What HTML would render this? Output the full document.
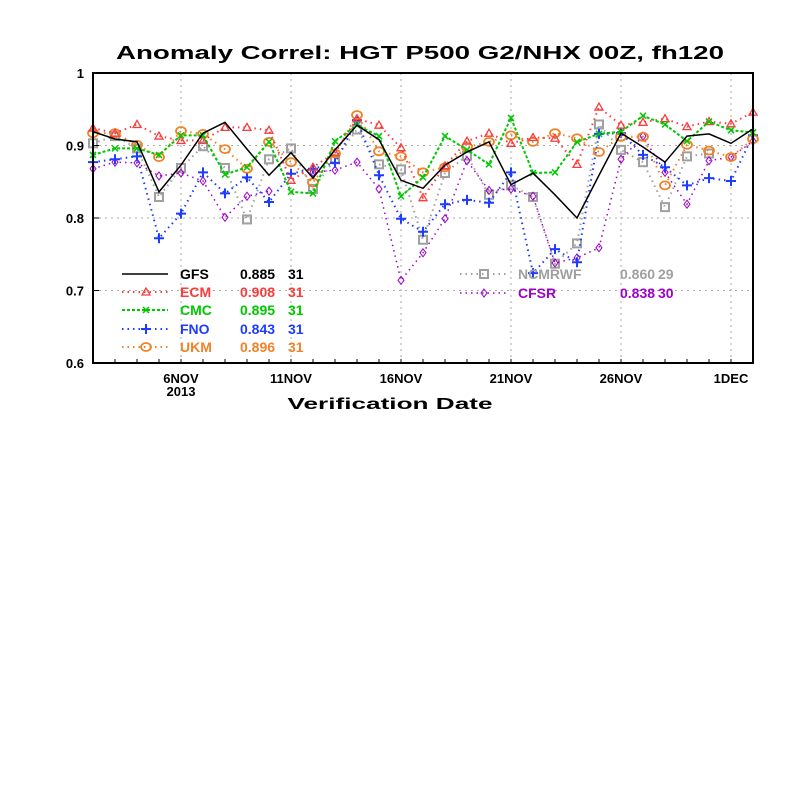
<!DOCTYPE html>
<html><head><meta charset="utf-8"><style>
html,body{margin:0;padding:0;background:#fff;}
svg{display:block;font-family:"Liberation Sans",sans-serif;font-weight:bold;}
</style></head><body>
<svg id="chart" width="800" height="800" xmlns="http://www.w3.org/2000/svg">
<rect width="800" height="800" fill="#fff"/>
<text x="420" y="59" text-anchor="middle" font-size="18" textLength="608" lengthAdjust="spacingAndGlyphs">Anomaly Correl: HGT P500 G2/NHX 00Z, fh120</text>
<text x="390" y="409" text-anchor="middle" font-size="16" textLength="205" lengthAdjust="spacingAndGlyphs">Verification Date</text>
<g id="grid"></g><g id="series"></g><g id="axes"></g><g id="legend"></g>
</svg>
<script>
const yTicks=[0.6,0.7,0.8,0.9,1];
const yTickLabels=["0.6","0.7","0.8","0.9","1"];
const xTickDays=[4,9,14,19,24,29];
const xTickLabels=["6NOV","11NOV","16NOV","21NOV","26NOV","1DEC"];
const gfs=[0.919,0.909,0.905,0.836,0.873,0.917,0.932,0.895,0.859,0.890,0.855,0.894,0.928,0.908,0.852,0.841,0.873,0.891,0.905,0.846,0.862,0.832,0.800,0.859,0.917,0.898,0.877,0.913,0.916,0.903,0.923];
const ecm=[0.924,0.917,0.929,0.913,0.907,0.907,0.925,0.925,0.921,0.852,0.870,0.890,0.937,0.928,0.897,0.828,0.872,0.906,0.917,0.903,0.911,0.910,0.874,0.953,0.928,0.932,0.937,0.926,0.933,0.930,0.946];
const cmc=[0.887,0.896,0.896,0.887,0.914,0.914,0.860,0.870,0.905,0.836,0.834,0.906,0.928,0.913,0.830,0.856,0.913,0.894,0.874,0.938,0.862,0.863,0.905,0.916,0.919,0.941,0.929,0.906,0.933,0.921,0.918];
const fno=[0.877,0.881,0.885,0.772,0.806,0.863,0.834,0.856,0.822,0.861,0.868,0.876,0.935,0.859,0.799,0.781,0.819,0.825,0.821,0.863,0.724,0.757,0.739,0.916,0.917,0.887,0.870,0.845,0.855,0.851,0.914];
const ukm=[0.917,0.917,0.901,0.884,0.920,0.916,0.895,0.868,0.905,0.877,0.849,0.889,0.942,0.892,0.885,0.863,0.870,0.898,0.905,0.914,0.905,0.917,0.910,0.891,0.912,0.912,0.845,0.901,0.893,0.884,0.909];
const ncm=[0.903,0.913,0.896,0.829,0.869,0.899,0.869,0.798,0.881,0.896,0.840,0.881,0.922,0.874,0.867,0.770,0.862,0.886,0.832,0.845,0.829,0.737,0.765,0.929,0.894,0.877,0.815,0.885,0.889,null,null];
const cfsr=[0.868,0.877,0.876,0.858,0.862,0.851,0.801,0.830,0.837,null,0.863,0.866,0.877,0.840,0.714,0.752,0.799,0.879,0.838,0.840,0.830,0.738,0.745,0.759,0.881,0.913,0.863,0.819,0.879,0.884,0.906];

const svgNS="http://www.w3.org/2000/svg";
const X0=93,DX=22,YT=73,YB=363,VMIN=0.6,VMAX=1;
function xs(i){return X0+DX*i;}
function ys(v){return YB-(v-VMIN)/(VMAX-VMIN)*(YB-YT);}
function mk(tag,attrs,parent){const e=document.createElementNS(svgNS,tag);for(const k in attrs)e.setAttribute(k,attrs[k]);parent.appendChild(e);return e;}
const grid=document.getElementById('grid'),axes=document.getElementById('axes'),ser=document.getElementById('series'),leg=document.getElementById('legend');

yTicks.forEach((v,k)=>{
  if(v>VMIN&&v<VMAX){const g=mk('line',{x1:X0,x2:753,y1:ys(v),y2:ys(v),stroke:'#aaa','stroke-width':1,'stroke-dasharray':'2,4'},grid);
  
  }
  const t=mk('text',{x:84,y:ys(v)+5,'text-anchor':'end','font-size':13},axes);t.textContent=yTickLabels[k];
  
  
  const tk=mk('line',{x1:X0,x2:X0+6,y1:ys(v),y2:ys(v),stroke:'#000','stroke-width':1},axes);
  
  
});
xTickDays.forEach((d,k)=>{
  const x=xs(d);
  const g=mk('line',{x1:x,x2:x,y1:YT,y2:YB,stroke:'#aaa','stroke-width':1,'stroke-dasharray':'2,4'},grid);
  
  
  const t=mk('text',{x:x,y:383,'text-anchor':'middle','font-size':13},axes);t.textContent=xTickLabels[k];
  
  
});
for(let i=0;i<31;i++){const tk=mk('line',{x1:xs(i),x2:xs(i),y1:YB,y2:YB-4,stroke:'#000'},axes);
  
  }
const yr=mk('text',{x:xs(4),y:396,'text-anchor':'middle','font-size':13},axes);yr.textContent="2013";


const fr=mk('rect',{x:X0,y:YT,width:753-X0,height:YB-YT,fill:'none',stroke:'#000','stroke-width':2},axes);



function marker(type,x,y,c,p){
  let e;
  if(type==='tri')e=mk('polygon',{points:`${x},${y-4} ${x-4},${y+3} ${x+4},${y+3}`,fill:'none',stroke:c,'stroke-width':1.3},p);
  else if(type==='x')e=mk('path',{d:`M${x-3},${y-3}L${x+3},${y+3}M${x-3},${y+3}L${x+3},${y-3}`,stroke:c,'stroke-width':1.5},p);
  else if(type==='plus')e=mk('path',{d:`M${x-5},${y}L${x+5},${y}M${x},${y-5}L${x},${y+5}`,stroke:c,'stroke-width':2},p);
  else if(type==='circ')e=mk('ellipse',{cx:x,cy:y,rx:5,ry:4,fill:'none',stroke:c,'stroke-width':1.8},p);
  else if(type==='sq')e=mk('rect',{x:x-4,y:y-4,width:8,height:8,fill:'none',stroke:c,'stroke-width':2},p);
  else if(type==='dia')e=mk('polygon',{points:`${x},${y-4} ${x+3},${y} ${x},${y+4} ${x-3},${y}`,fill:'none',stroke:c,'stroke-width':1},p);
  return e;
}
const defs=[
 {n:'ncmrwf',d:ncm,c:'#a0a0a0',m:'sq',dash:'1.5,4',w:2,lbl:['NCMRWF','0.860','29'],lx:460,ly:274},
 {n:'cfsr',d:cfsr,c:'#a000c8',m:'dia',dash:'1.5,4',w:1.5,lbl:['CFSR','0.838','30'],lx:460,ly:293},
 {n:'fno',d:fno,c:'#1e3cff',m:'plus',dash:'1.5,4',w:2,lbl:['FNO','0.843','31'],lx:122,ly:329},
 {n:'ukm',d:ukm,c:'#f08228',m:'circ',dash:'1.5,4',w:2,lbl:['UKM','0.896','31'],lx:122,ly:347},
 {n:'ecm',d:ecm,c:'#fa3c3c',m:'tri',dash:'1.5,4',w:2,lbl:['ECM','0.908','31'],lx:122,ly:292},
 {n:'cmc',d:cmc,c:'#00c800',m:'x',dash:'3,2',w:2,lbl:['CMC','0.895','31'],lx:122,ly:310},
 {n:'gfs',d:gfs,c:'#000',m:null,dash:null,w:1.5,lbl:['GFS','0.885','31'],lx:122,ly:274}
];
defs.forEach(s=>{
  const g=mk('g',{},ser);
  
  
  let segs=[],cur=[];
  s.d.forEach((v,i)=>{if(v==null){if(cur.length)segs.push(cur);cur=[];}else cur.push(xs(i)+','+ys(v));});
  if(cur.length)segs.push(cur);
  segs.forEach(sg=>{const a={points:sg.join(' '),fill:'none',stroke:s.c,'stroke-width':s.w};if(s.dash)a['stroke-dasharray']=s.dash;
    const l=mk('polyline',a,g);
    
    });
  if(s.m)s.d.forEach((v,i)=>{if(v==null)return;const e=marker(s.m,xs(i),ys(v),s.c,g);
    
    });
  const lg=mk('g',{},leg);
  
  
  const la={x1:s.lx,x2:s.lx+46,y1:s.ly,y2:s.ly,stroke:s.c,'stroke-width':s.w};if(s.dash)la['stroke-dasharray']=s.dash;
  mk('line',la,lg);
  if(s.m)marker(s.m,s.lx+24,s.ly,s.c,lg);
  const tx=s.lx+58;
  const t1=mk('text',{x:tx,y:s.ly+5,fill:s.c,'font-size':14},lg);t1.textContent=s.lbl[0];
  const t2=mk('text',{x:tx+(s.lx>400?102:60),y:s.ly+5,fill:s.c,'font-size':14},lg);t2.textContent=s.lbl[1];
  const t3=mk('text',{x:tx+(s.lx>400?140:108),y:s.ly+5,fill:s.c,'font-size':14},lg);t3.textContent=s.lbl[2];
});
</script>
</body></html>
